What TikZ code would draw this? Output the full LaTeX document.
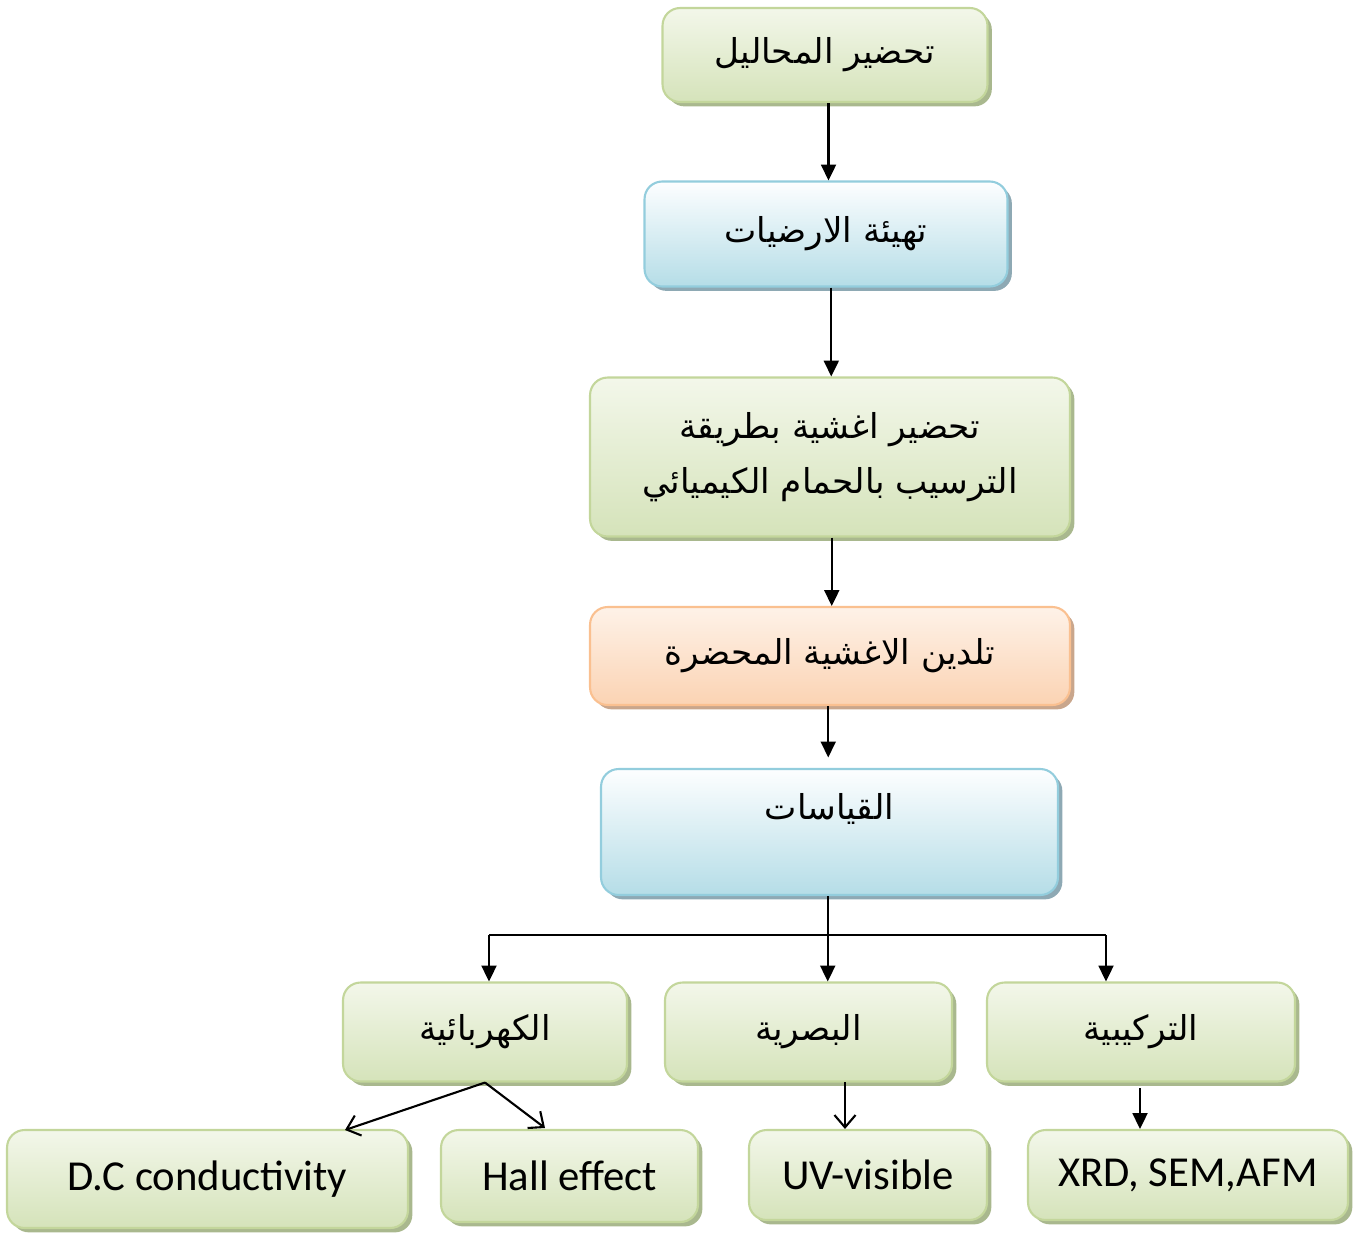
\documentclass[tikz,border=0pt]{standalone}
\usepackage{fontspec}
\setmainfont{Carlito}
\newfontfamily\arabicfont[Script=Arabic]{DejaVu Sans}
\TeXXeTstate=1
\usetikzlibrary{arrows.meta,shadows}
\newcommand{\artxt}[1]{{\arabicfont\fontsize{19.5}{31}\selectfont\beginR #1\endR}}

\definecolor{grnTop}{HTML}{F3F7EA}
\definecolor{grnBot}{HTML}{D5E3BA}
\definecolor{grnLine}{HTML}{C3D69B}
\definecolor{grnShd}{HTML}{A9B88E}
\definecolor{bluTop}{HTML}{FDFEFF}
\definecolor{bluBot}{HTML}{B5DDE7}
\definecolor{bluLine}{HTML}{93CDDD}
\definecolor{bluShd}{HTML}{8EA9B4}
\definecolor{orgTop}{HTML}{FEF2E8}
\definecolor{orgBot}{HTML}{FBD3B3}
\definecolor{orgLine}{HTML}{FAC090}
\definecolor{orgShd}{HTML}{C9A68C}

\tikzset{
  box/.style={rounded corners=10pt, line width=1.2pt, inner sep=0pt,
    align=center, font=\fontsize{24.3}{31}\selectfont},
  grnbox/.style={box, draw=grnLine, top color=grnTop, bottom color=grnBot,
    drop shadow={shadow xshift=2.5pt, shadow yshift=-2.5pt, fill=grnShd, opacity=1}},
  blubox/.style={box, draw=bluLine, top color=bluTop, bottom color=bluBot,
    drop shadow={shadow xshift=2.5pt, shadow yshift=-2.5pt, fill=bluShd, opacity=1}},
  orgbox/.style={box, draw=orgLine, top color=orgTop, bottom color=orgBot,
    drop shadow={shadow xshift=2.5pt, shadow yshift=-2.5pt, fill=orgShd, opacity=1}},
  arr/.style={-{Triangle[length=9pt,width=8.5pt]}, line width=1.2pt},
  openarr/.style={-{Straight Barb[length=7pt,width=12pt]}, line width=1.2pt}
}

\begin{document}
\begin{tikzpicture}[x=0.02cm, y=-0.02cm]
\useasboundingbox (0,0) rectangle (1357,1232);

% main column
\node[grnbox, minimum width=6.5cm, minimum height=1.88cm] (sol) at (825,55) {\artxt{تحضير المحاليل}};
\node[blubox, minimum width=7.26cm, minimum height=2.1cm] (sub) at (826,234) {\artxt{تهيئة الارضيات}};
\node[grnbox, minimum width=9.6cm, minimum height=3.18cm] (film) at (830,457)
  {\artxt{تحضير اغشية بطريقة}\\ \artxt{الترسيب بالحمام الكيميائي}};
\node[orgbox, minimum width=9.6cm, minimum height=1.96cm] (anneal) at (830,656) {\artxt{تلدين الاغشية المحضرة}};
\node[blubox, minimum width=9.14cm, text height=1.0cm, text depth=1.52cm] (meas) at (829.5,832) {\artxt{القياسات}};

% measurement kinds
\node[grnbox, minimum width=5.68cm, minimum height=1.98cm] (elec) at (485,1032) {\artxt{الكهربائية}};
\node[grnbox, minimum width=5.74cm, minimum height=1.98cm] (opt) at (808.5,1032) {\artxt{البصرية}};
\node[grnbox, minimum width=6.16cm, minimum height=1.98cm] (str) at (1141,1032) {\artxt{التركيبية}};

% techniques
\node[grnbox, minimum width=8.02cm, minimum height=1.96cm] (dc) at (207.5,1179) {D.C conductivity};
\node[grnbox, minimum width=5.14cm, minimum height=1.84cm] (hall) at (569.5,1176) {Hall effect};
\node[grnbox, minimum width=4.76cm, minimum height=1.8cm] (uv) at (868,1175) {UV-visible};
\node[grnbox, minimum width=6.4cm, minimum height=1.8cm] (xrd) at (1188,1175) {XRD, SEM,AFM};

\draw[arr] ([xshift=2pt]sol.south) -- ([xshift=2pt]sol.south |- sub.north);
\draw[arr] ([xshift=3pt]sub.south) -- ([xshift=3pt]sub.south |- film.north);
\draw[arr] ([xshift=1pt]film.south) -- ([xshift=1pt]film.south |- anneal.north);
\draw[arr] ([xshift=-1pt]anneal.south) -- ([xshift=-1pt,yshift=6pt]anneal.south |- meas.north);

\coordinate (busL) at (489,935);
\coordinate (busR) at (1106,935);
\draw[line width=1.2pt] ([xshift=-1pt]meas.south) -- ([xshift=-1pt]meas.south |- busL) coordinate (busM);
\draw[line width=1.2pt] (busL) -- (busR);
\foreach \b in {busL,busM,busR}
  \draw[arr] (\b) -- (\b |- elec.north);

\coordinate (dcin) at (345,1130);
\coordinate (hallin) at (545,1128);
\draw[openarr] (elec.south) -- (dcin);
\draw[openarr] (elec.south) -- (hallin);
\coordinate (optout) at (845,1082);
\draw[openarr] (optout) -- (optout |- uv.north);
\coordinate (strout) at (1140,1088);
\draw[arr] (strout) -- (strout |- xrd.north);
\end{tikzpicture}
\end{document}
